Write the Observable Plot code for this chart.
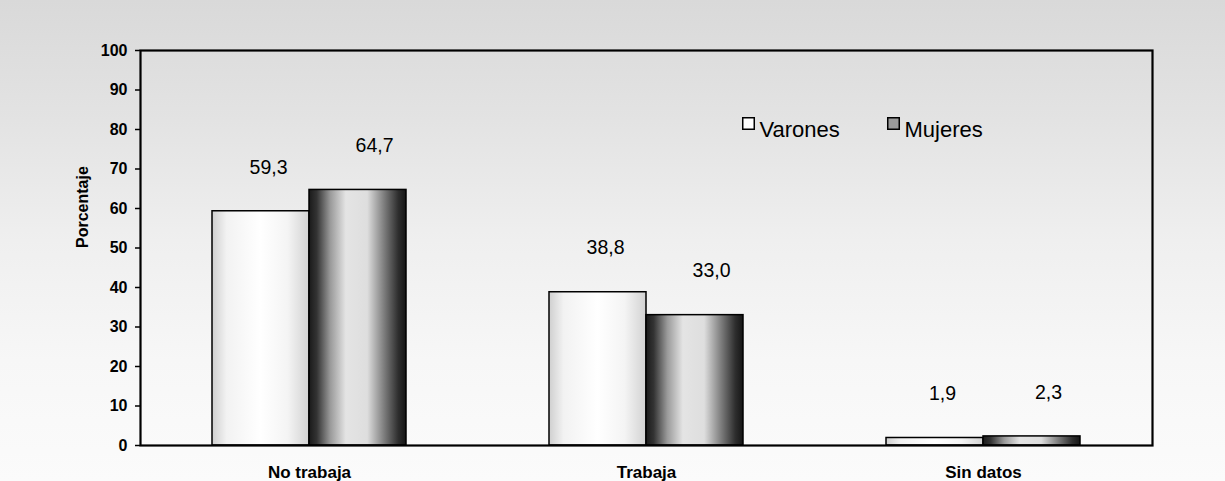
<!DOCTYPE html>
<html>
<head>
<meta charset="utf-8">
<script src="https://cdn.jsdelivr.net/npm/d3@7"></script>
<script src="https://cdn.jsdelivr.net/npm/@observablehq/plot@0.6"></script>
<style>
  html, body { margin: 0; padding: 0; }
  body {
    width: 1225px; height: 481px; overflow: hidden;
    background: linear-gradient(to bottom, #d9d9d9 0%, #e3e3e3 25%, #efefef 50%, #f7f7f7 75%, #fbfbfb 100%);
  }
</style>
</head>
<body>
<div id="chart"></div>
<script>
const categories = ["No trabaja", "Trabaja", "Sin datos"];
const series = ["Varones", "Mujeres"];
const varones = [59.3, 38.8, 1.9];
const mujeres = [64.7, 33.0, 2.3];
const yTicks = [0, 10, 20, 30, 40, 50, 60, 70, 80, 90, 100];
const yLabel = "Porcentaje";

const varonesRows = categories.map((c, i) => ({category: c, series: series[0], value: varones[i]}));
const mujeresRows = categories.map((c, i) => ({category: c, series: series[1], value: mujeres[i]}));
const fmt = v => v.toFixed(1).replace(".", ",");
const font = '"Liberation Sans", Arial, Helvetica, sans-serif';

const plot = Plot.plot({
  width: 1225,
  height: 481,
  marginLeft: 140,
  marginRight: 73,
  marginTop: 50,
  marginBottom: 36,
  style: {fontFamily: font, background: "transparent", color: "black", overflow: "visible"},
  x: {domain: categories, paddingInner: 0.425, paddingOuter: 0.2125, label: null},
  y: {domain: [0, 100], label: null},
  marks: [
    Plot.barY(varonesRows, {x: "category", y: "value", insetRight: 97, fill: "url(#gradV)", stroke: "black", strokeWidth: 1.5}),
    Plot.barY(mujeresRows, {x: "category", y: "value", insetLeft: 97, fill: "url(#gradM)", stroke: "black", strokeWidth: 1.5}),
    Plot.text(varonesRows, {x: "category", y: "value", text: d => fmt(d.value), dx: -41, dy: -44, fontSize: 19.5, fill: "black"}),
    Plot.text(mujeresRows, {x: "category", y: "value", text: d => fmt(d.value), dx: 65, dy: -44, fontSize: 19.5, fill: "black"}),
    Plot.axisY(yTicks, {tickSize: 5, tickPadding: 8, fontSize: 16, fontWeight: "bold", tickFormat: d => d, label: null, strokeWidth: 1.5}),
    Plot.axisX({tickSize: 0, tickPadding: 20, fontSize: 17, fontWeight: "bold", label: null}),
    Plot.frame({stroke: "black", strokeWidth: 2.2}),
    Plot.text([yLabel], {frameAnchor: "left", dx: -58, rotate: -90, text: d => d, fontSize: 16, fontWeight: "bold", fill: "black"}),
    // legend
    Plot.dot([series[0]], {frameAnchor: "top-left", dx: 608, dy: 73, symbol: "square", r: 6.5, fill: "white", stroke: "black", strokeWidth: 1.5}),
    Plot.text([series[0]], {frameAnchor: "top-left", dx: 619, dy: 71, text: d => d, textAnchor: "start", fontSize: 22, fill: "black"}),
    Plot.dot([series[1]], {frameAnchor: "top-left", dx: 753, dy: 73, symbol: "square", r: 6.5, fill: "#9a9a9a", stroke: "black", strokeWidth: 1.5}),
    Plot.text([series[1]], {frameAnchor: "top-left", dx: 764, dy: 71, text: d => d, textAnchor: "start", fontSize: 22, fill: "black"})
  ]
});

const defs = d3.select(plot).insert("defs", ":first-child");
const gv = defs.append("linearGradient").attr("id", "gradV").attr("x1", "0").attr("x2", "1").attr("y1", "0").attr("y2", "0");
[[0, "#cfcfcf"], [0.15, "#f2f2f2"], [0.5, "#ffffff"], [0.78, "#f4f4f4"], [1, "#d2d2d2"]]
  .forEach(([o, c]) => gv.append("stop").attr("offset", o).attr("stop-color", c));
const gm = defs.append("linearGradient").attr("id", "gradM").attr("x1", "0").attr("x2", "1").attr("y1", "0").attr("y2", "0");
[[0, "#1a1a1a"], [0.08, "#333333"], [0.22, "#9a9a9a"], [0.38, "#e4e4e4"], [0.6, "#dedede"], [0.78, "#7a7a7a"], [0.92, "#2e2e2e"], [1, "#151515"]]
  .forEach(([o, c]) => gm.append("stop").attr("offset", o).attr("stop-color", c));

document.getElementById("chart").appendChild(plot);
</script>
</body>
</html>
